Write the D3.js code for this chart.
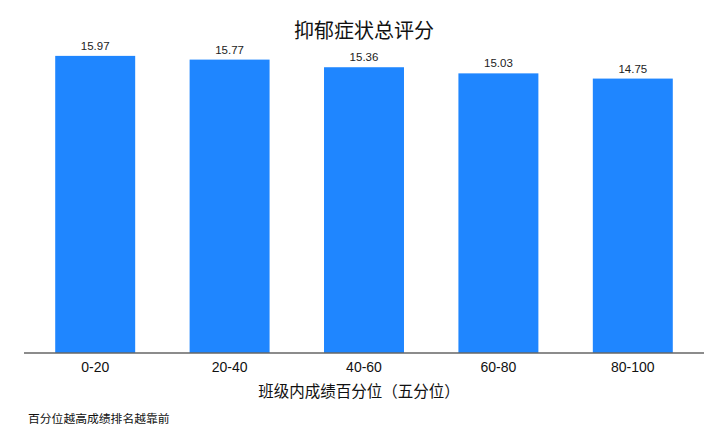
<!DOCTYPE html>
<html><head><meta charset="utf-8">
<script src="https://cdn.jsdelivr.net/npm/d3@7"></script>
<style>body{margin:0;background:#fff}</style>
</head><body><svg id="c" width="720" height="432"></svg>
<script>
const categories = ["0-20","20-40","40-60","60-80","80-100"];
const values = [15.97,15.77,15.36,15.03,14.75];
const title = "抑郁症状总评分";
const xTitle = "班级内成绩百分位（五分位）";
const note = "百分位越高成绩排名越靠前";

const svg = d3.select("#c");
const font = "'Liberation Sans', Arial, 'Noto Sans CJK SC', sans-serif";
const cjk = "'Noto Sans CJK SC', sans-serif";
const baseY = 353;
const x = d3.scaleBand().domain(categories).range([28, 700]).paddingInner(0.405).paddingOuter(0.2025);
const y = d3.scaleLinear().domain([0, 16.77]).range([baseY, 41]);

svg.selectAll("rect.bar").data(values).join("rect")
  .attr("class","bar")
  .attr("x",(d,i)=>x(categories[i]))
  .attr("width",x.bandwidth())
  .attr("y",d=>y(d))
  .attr("height",d=>baseY-y(d))
  .attr("fill","#1f86ff");

svg.selectAll("text.val").data(values).join("text")
  .attr("class","val")
  .attr("x",(d,i)=>x(categories[i])+x.bandwidth()/2)
  .attr("y",d=>y(d)-6)
  .attr("text-anchor","middle")
  .attr("font-family",font).attr("font-size",11.5).attr("fill","#222")
  .text(d=>d.toFixed(2));

const axis = d3.axisBottom(x).tickSize(0).tickPadding(9);
const g = svg.append("g").attr("transform",`translate(0,${baseY})`).call(axis);
g.select(".domain").remove();
g.selectAll("text").attr("font-family",font).attr("font-size",14).attr("fill","#111");
svg.append("line").attr("x1",24).attr("x2",704).attr("y1",baseY).attr("y2",baseY)
  .attr("stroke","#666").attr("stroke-width",1.3);

svg.append("text").attr("x",364).attr("y",38).attr("text-anchor","middle")
  .attr("font-family",cjk).attr("font-size",20).attr("fill","#111").text(title);
svg.append("text").attr("x",359).attr("y",397).attr("text-anchor","middle")
  .attr("font-family",cjk).attr("font-size",15.5).attr("fill","#111").text(xTitle);
svg.append("text").attr("x",28).attr("y",423).attr("text-anchor","start")
  .attr("font-family",cjk).attr("font-size",11.8).attr("fill","#111").text(note);
</script></body></html>
